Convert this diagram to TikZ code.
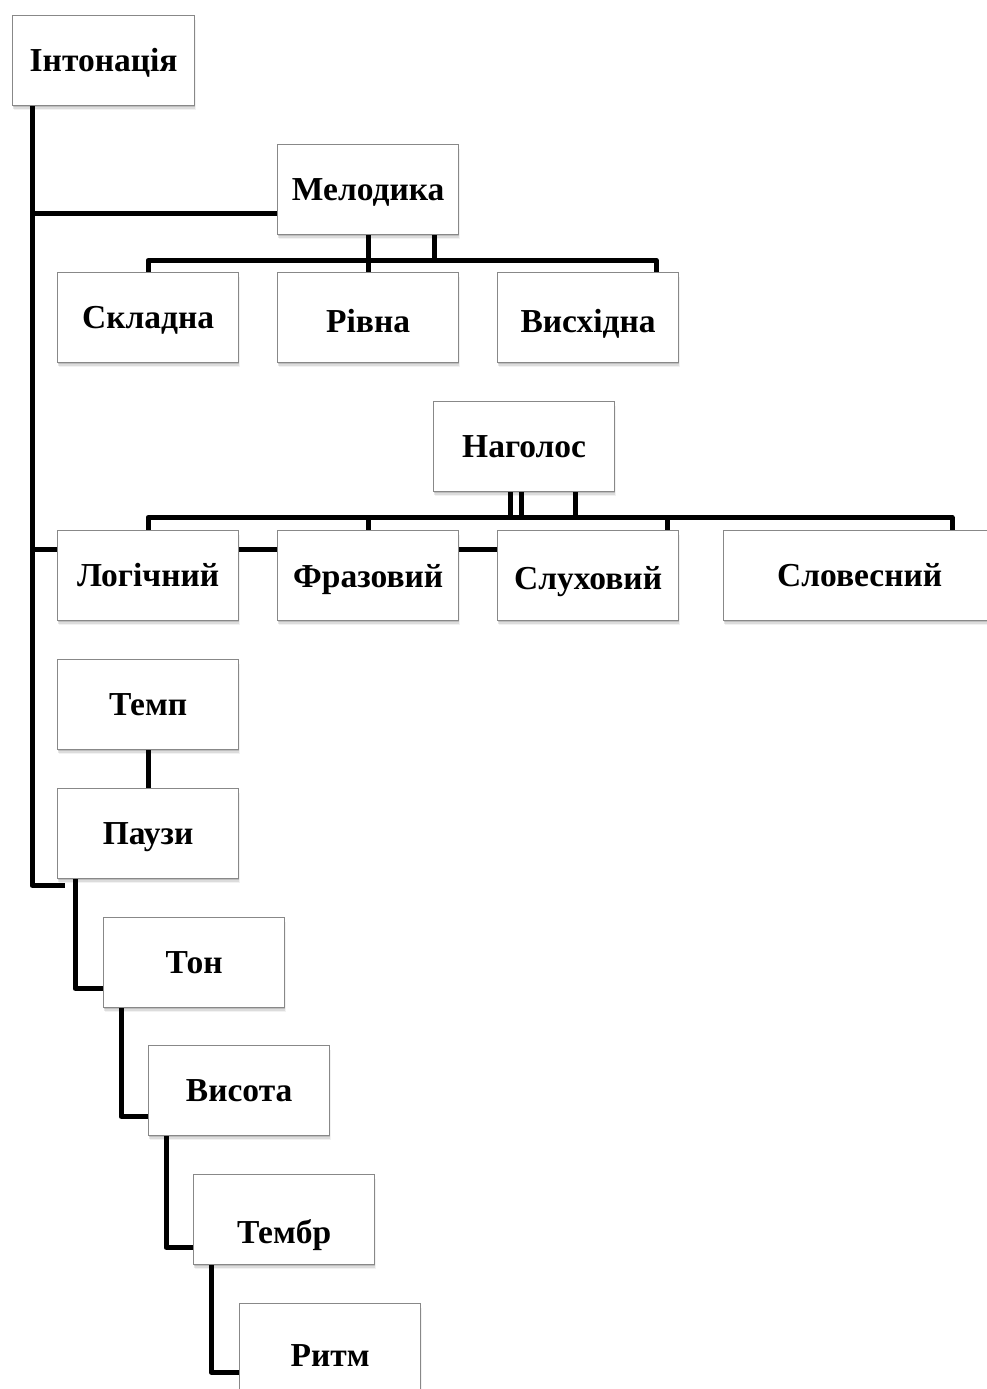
\documentclass[tikz,border=0pt]{standalone}
\usepackage{fontspec}
\setmainfont{Liberation Serif}
\pgfdeclarelayer{back}
\pgfdeclarelayer{conn}
\pgfsetlayers{back,conn,main}
\definecolor{frame}{HTML}{888888}
\begin{document}
\begin{tikzpicture}[x=1pt,y=-1pt,
  softshadow/.style={
    preaction={fill=black, fill opacity=0.13, transform canvas={shift={(0.5pt,-1.5pt)}}},
    preaction={fill=black, fill opacity=0.09, transform canvas={shift={(0.8pt,-3pt)}}},
    preaction={fill=black, fill opacity=0.05, transform canvas={shift={(1pt,-4.5pt)}}}},
  box/.style={softshadow, draw=frame, line width=1.3pt, fill=white, inner sep=0pt,
    anchor=north west, minimum width=181pt, text height=56pt, text depth=34pt,
    font=\fontsize{33.5}{36}\selectfont\bfseries},
  conn/.style={line width=5pt, line join=round, draw=black}]

\begin{pgfonlayer}{back}
  \fill[white] (0,0) rectangle (986,1389);
\end{pgfonlayer}
\useasboundingbox (0,0) rectangle (986,1389);

% boxes
\node[box, minimum width=182pt] (int) at (12,15) {Інтонація};
\node[box] (mel) at (277,144) {Мелодика};
\node[box] (skl) at (57,272) {Складна};
\node[box, text height=60pt, text depth=30pt] (rivna) at (277,272) {Рівна};
\node[box, text height=60pt, text depth=30pt] (vysh) at (497,272) {Висхідна};
\node[box] (nag) at (433,401) {Наголос};
\node[box] (log) at (57,530) {Логічний};
\node[box, text height=57pt, text depth=33pt] (fraz) at (277,530) {Фразовий};
\node[box, text height=59pt, text depth=31pt] (sluh) at (497,530) {Слуховий};
\node[box, minimum width=272pt] (slov) at (723,530) {Словесний};
\node[box] (temp) at (57,659) {Темп};
\node[box] (pauzy) at (57,788) {Паузи};
\node[box] (ton) at (103,917) {Тон};
\node[box] (vys) at (148,1045) {Висота};
\node[box, text height=69pt, text depth=21pt] (tembr) at (193,1174) {Тембр};
\node[box, text height=63pt, text depth=27pt] (rytm) at (239,1303) {Ритм};

% connectors
\begin{pgfonlayer}{conn}
  \coordinate (tk) at ([xshift=20pt]int.south west);
  \coordinate (mb) at ([yshift=-24pt]mel.west);
  \coordinate (mbus) at ([yshift=-25pt]mel.south);
  \coordinate (nbus) at ([yshift=-25pt]nag.south);
  \coordinate (lb) at ([yshift=-19pt]sluh.north west);

  % main trunk
  \draw[conn] (tk) |- ([shift={(8pt,-6pt)}]pauzy.south west);
  \draw[conn] (tk |- mb) -- (mb);
  \draw[conn] (tk |- lb) -- (lb);

  % melody branch
  \draw[conn] (skl.north) |- (mbus) -| ([xshift=-23pt]vysh.north east);
  \draw[conn] (mel.south) -- (rivna.north);
  \draw[conn] ([xshift=-25pt]mel.south east) -- ([xshift=-25pt]mel.south east |- mbus);

  % stress branch
  \draw[conn] (log.north) |- (nbus) -| ([xshift=229pt]slov.north west);
  \draw[conn] (fraz.north) -- (fraz.north |- nbus);
  \draw[conn] ([xshift=-12pt]sluh.north east) -- ([xshift=-12pt]sluh.north east |- nbus);
  \draw[conn] ([xshift=77pt]nag.south west) -- ([xshift=77pt]nag.south west |- nbus);
  \draw[conn] ([xshift=88pt]nag.south west) -- ([xshift=88pt]nag.south west |- nbus);
  \draw[conn] ([xshift=142pt]nag.south west) -- ([xshift=142pt]nag.south west |- nbus);

  % tempo, pauses and the staircase
  \draw[conn] (temp.south) -- (pauzy.north);
  \draw[conn] ([xshift=18pt]pauzy.south west) |- ([yshift=20pt]ton.south west);
  \draw[conn] ([xshift=18pt]ton.south west) |- ([yshift=20pt]vys.south west);
  \draw[conn] ([xshift=18pt]vys.south west) |- ([yshift=18pt]tembr.south west);
  \draw[conn] ([xshift=18pt]tembr.south west) |- ([yshift=-69pt]rytm.north west);
\end{pgfonlayer}
\end{tikzpicture}
\end{document}
